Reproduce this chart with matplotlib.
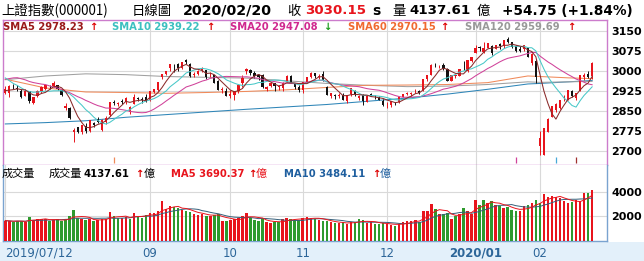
import numpy as np
import pandas as pd
import matplotlib
matplotlib.use("Agg")
import matplotlib.pyplot as plt
from matplotlib.patches import Rectangle

plt.rcParams['font.family'] = ['DejaVu Sans', 'Noto Sans CJK TC']

# ========== DATA ==========
# trading days per month (2019/07/12 .. 2020/02/20)
month_days = [
    ("2019-07", [12, 15, 16, 17, 18, 19, 22, 23, 24, 25, 26, 29, 30, 31]),
    ("2019-08", [1, 2, 5, 6, 7, 8, 9, 12, 13, 14, 15, 16, 19, 20, 21, 22, 23, 26, 27, 28, 29, 30]),
    ("2019-09", [2, 3, 4, 5, 6, 9, 10, 11, 12, 16, 17, 18, 19, 20, 23, 24, 25, 26, 27, 30]),
    ("2019-10", [8, 9, 10, 11, 14, 15, 16, 17, 18, 21, 22, 23, 24, 25, 28, 29, 30, 31]),
    ("2019-11", [1, 4, 5, 6, 7, 8, 11, 12, 13, 14, 15, 18, 19, 20, 21, 22, 25, 26, 27, 28, 29]),
    ("2019-12", [2, 3, 4, 5, 6, 9, 10, 11, 12, 13, 16, 17, 18, 19, 20, 23, 24, 25, 26, 27, 30, 31]),
    ("2020-01", [2, 3, 6, 7, 8, 9, 10, 13, 14, 15, 16, 17, 20, 21, 22, 23]),
    ("2020-02", [3, 4, 5, 6, 7, 10, 11, 12, 13, 14, 17, 18, 19, 20]),
]
tick_labels = ["2019/07/12", "09", "10", "11", "12", "2020/01", "02"]
bold_ticks = ["2020/01"]

# closes before the window (for the short moving averages)
prior_closes = [2887.62, 2890.16, 2917.80, 2987.12, 3001.98, 3008.15, 2982.07, 2976.28,
                2996.79, 2978.88, 3044.90, 3043.94, 3005.25, 2996.79, 3011.06, 2933.36,
                2928.23, 2915.30, 2917.76]

opens = [
    2917, 2916, 2940, 2935, 2925, 2905, 2922, 2880, 2905, 2922, 2932, 2942, 2941, 2946,
    2927, 2860, 2860, 2770, 2787, 2770, 2794, 2773, 2802, 2818, 2778, 2808, 2833, 2884, 2873, 2887, 2883, 2846, 2876, 2898, 2894, 2902,
    2890, 2920, 2926, 2977, 2988, 3010, 3022, 3024, 3010, 3040, 3026, 2984, 2988, 3001, 3002, 2982, 2982, 2960, 2929, 2923,
    2905, 2908, 2924, 2952, 2998, 3003, 2991, 2982, 2982, 2932, 2941, 2952, 2940, 2935, 2958, 2980, 2950, 2939,
    2927, 2958, 2976, 2990, 2978, 2989, 2940, 2906, 2907, 2904, 2910, 2887, 2912, 2925, 2899, 2908, 2883, 2911, 2905, 2899, 2886,
    2875, 2871, 2880, 2883, 2902, 2913, 2911, 2922, 2924, 2928, 2968, 2985, 3019, 3017, 3022, 3005, 2963, 2979, 2981, 3007, 3000, 3037,
    3066, 3089, 3070, 3085, 3094, 3083, 3100, 3093, 3117, 3106, 3094, 3080, 3081, 3084, 3029, 3037,
    2716, 2685, 2771, 2826, 2854, 2860, 2900, 2891, 2924, 2897, 2924, 2975, 2986, 2981,
]
highs = [
    2942, 2945, 2950, 2945, 2932, 2932, 2923, 2900, 2926, 2941, 2946, 2945, 2963, 2948,
    2931, 2877, 2864, 2783, 2790, 2796, 2805, 2815, 2807, 2826, 2818, 2828, 2884, 2891, 2882, 2892, 2901, 2866, 2912, 2901, 2900, 2911,
    2925, 2932, 2958, 2988, 3000, 3026, 3025, 3028, 3033, 3042, 3027, 2995, 3002, 3012, 3004, 2995, 2983, 2966, 2940, 2935,
    2926, 2925, 2950, 2982, 3010, 3007, 2999, 2986, 2987, 2944, 2955, 2953, 2946, 2957, 2983, 2982, 2955, 2946,
    2959, 2976, 2996, 2992, 2987, 2998, 2943, 2917, 2912, 2917, 2915, 2910, 2935, 2928, 2907, 2912, 2908, 2917, 2908, 2903, 2894,
    2881, 2885, 2882, 2900, 2913, 2920, 2921, 2932, 2926, 2969, 2985, 3025, 3027, 3023, 3028, 3009, 2983, 2985, 3008, 3036, 3041, 3051,
    3098, 3093, 3107, 3105, 3095, 3096, 3105, 3116, 3127, 3108, 3095, 3092, 3096, 3085, 3068, 3045,
    2772, 2786, 2823, 2869, 2877, 2891, 2907, 2927, 2928, 2918, 2984, 2990, 2998, 3031,
]
lows = [
    2912, 2900, 2931, 2925, 2896, 2904, 2878, 2874, 2902, 2918, 2928, 2930, 2939, 2929,
    2903, 2851, 2818, 2733, 2766, 2761, 2766, 2770, 2789, 2803, 2772, 2801, 2831, 2872, 2866, 2873, 2876, 2838, 2875, 2887, 2879, 2883,
    2885, 2917, 2925, 2968, 2985, 2999, 2996, 2999, 3006, 3026, 2976, 2975, 2983, 2996, 2968, 2975, 2953, 2927, 2917, 2905,
    2896, 2891, 2915, 2938, 2986, 2985, 2973, 2966, 2936, 2924, 2937, 2924, 2926, 2925, 2956, 2953, 2931, 2920,
    2915, 2954, 2973, 2972, 2970, 2960, 2907, 2897, 2895, 2899, 2889, 2880, 2905, 2906, 2890, 2872, 2881, 2903, 2894, 2888, 2869,
    2860, 2862, 2870, 2878, 2900, 2907, 2906, 2916, 2912, 2925, 2963, 2985, 3012, 3009, 3002, 2961, 2961, 2972, 2980, 3003, 2996, 3031,
    3066, 3074, 3065, 3084, 3060, 3083, 3081, 3086, 3105, 3084, 3071, 3071, 3074, 3051, 3023, 2955,
    2685, 2685, 2768, 2825, 2846, 2856, 2887, 2889, 2901, 2891, 2924, 2966, 2971, 2967,
]
closes = [
    2930.55, 2942.19, 2937.62, 2931.69, 2901.95, 2924.20, 2886.97, 2899.94, 2923.28, 2937.36, 2944.54, 2941.01, 2952.34, 2932.51,
    2908.77, 2867.84, 2821.50, 2777.56, 2768.68, 2794.55, 2774.75, 2814.99, 2797.26, 2808.91, 2815.80, 2823.82, 2883.10, 2880.33,
    2880.00, 2883.44, 2897.43, 2863.57, 2902.19, 2893.76, 2890.92, 2886.24,
    2924.11, 2930.15, 2957.41, 2985.86, 2999.60, 3024.74, 3021.20, 3008.81, 3031.24, 3030.75, 2978.12, 2985.66, 2999.28, 3006.45,
    2977.08, 2985.34, 2955.43, 2929.09, 2932.17, 2905.19,
    2913.57, 2924.86, 2947.71, 2973.66, 3007.88, 2991.05, 2978.71, 2977.33, 2938.14, 2939.62, 2954.38, 2940.92, 2940.46, 2954.93,
    2980.05, 2954.18, 2939.32, 2929.06,
    2958.20, 2975.49, 2991.56, 2978.60, 2978.71, 2964.18, 2909.97, 2914.82, 2905.24, 2909.87, 2891.34, 2909.20, 2933.99, 2911.05,
    2903.64, 2885.29, 2906.17, 2907.06, 2903.19, 2889.69, 2871.98,
    2875.81, 2884.70, 2878.12, 2899.47, 2912.01, 2914.48, 2917.32, 2924.42, 2915.70, 2967.68, 2984.39, 3022.42, 3017.04, 3017.07,
    3004.94, 2962.75, 2982.68, 2981.88, 3007.35, 3005.04, 3040.02, 3050.12,
    3085.20, 3083.79, 3083.41, 3104.80, 3066.89, 3094.88, 3092.29, 3115.57, 3106.82, 3090.04, 3074.08, 3075.50, 3095.79, 3052.14,
    3060.75, 2976.53,
    2746.61, 2783.29, 2818.09, 2866.51, 2875.96, 2890.49, 2901.67, 2926.90, 2906.07, 2917.01, 2983.62, 2984.97, 2975.40, 3030.15,
]
# turnover, 億
volumes = [
    1650, 1600, 1550, 1650, 1600, 1550, 1950, 1700, 1750, 1800, 1750, 1650, 1700, 1750,
    1650, 1800, 2000, 2500, 1850, 1750, 1700, 1750, 1650, 1700, 1750, 1800, 2350, 2000, 1900, 1850, 1950, 1800, 2300, 2000, 1900, 2100,
    2250, 2300, 2450, 3200, 2600, 2800, 2750, 2650, 2500, 2450, 2350, 2150, 2100, 2200, 2050, 2000, 2100, 2150, 1650, 1600,
    1700, 1750, 1900, 2000, 2300, 1850, 1700, 1650, 1800, 1500, 1450, 1500, 1550, 1750, 1900, 1800, 1700, 1700,
    1850, 1950, 1900, 1800, 1700, 1650, 1600, 1500, 1450, 1450, 1500, 1400, 1550, 1500, 1750, 1700, 1450, 1500, 1400, 1400, 1450,
    1350, 1300, 1250, 1400, 1550, 1600, 1650, 1700, 1550, 2400, 2450, 3030, 2600, 2200, 2150, 2250, 1750, 2050, 2150, 2650, 2450, 2200,
    3300, 2950, 3300, 3050, 3200, 2950, 2800, 2700, 2750, 2500, 2400, 2450, 2800, 2950, 3050, 3300,
    3050, 3800, 3600, 3650, 3550, 3450, 3200, 3050, 3139.25, 3300, 3250, 3850, 3914.24, 4137.61,
]

# longer averages at sample days
ma_days = [0, 10, 20, 30, 40, 50, 60, 70, 80, 90, 100, 110, 120, 130, 133, 140, 146]
sma60 = [2968, 2935, 2920, 2918, 2915, 2918, 2922, 2928, 2937, 2945, 2946, 2948, 2955, 2980, 2978, 2973, 2970.15]
sma120 = [2966, 2980, 2988, 2985, 2978, 2975, 2972, 2962, 2952, 2945, 2940, 2942, 2948, 2958, 2956, 2958, 2959.69]
sma240 = [2800, 2805, 2812, 2825, 2835, 2845, 2855, 2864, 2873, 2885, 2897, 2912, 2930, 2950, 2952, 2958, 2963]

# event markers under the price chart
event_days = [27, 127, 137, 142]

# ========== DERIVED ==========
dates = [f"{m}-{d:02d}" for m, days in month_days for d in days]
n = len(dates)
idx = np.arange(n)
o, h, l, c = map(np.array, (opens, highs, lows, closes))
vol = np.array(volumes)

allc = pd.Series(prior_closes + closes)
ma5 = allc.rolling(5).mean().values[-n:]
ma10 = allc.rolling(10).mean().values[-n:]
ma20 = allc.rolling(20).mean().values[-n:]
vs = pd.Series(vol)
vma5 = vs.rolling(5, min_periods=1).mean().values
vma10 = vs.rolling(10, min_periods=1).mean().values

month_starts = [0] + [dates.index(f"{m}-{days[0]:02d}") for m, days in month_days[2:]]

# ========== LAYOUT ==========
W, H = 644, 261
def fx(x): return x / W
def fy(y): return 1 - y / H

fig = plt.figure(figsize=(W / 100, H / 100), dpi=100)
fig.patch.set_facecolor("white")
fig.add_artist(Rectangle((0, 0), 1, fy(242), transform=fig.transFigure,
                         facecolor="#e3f0fa", edgecolor="none", zorder=0))

XL = (-0.57, 149.7)
ax = fig.add_axes([fx(3), fy(165), (607 - 3) / W, (165 - 20) / H])
axv = fig.add_axes([fx(3), fy(241), (607 - 3) / W, (241 - 165) / H])

UP, DN, VDN = "#e8141c", "#111111", "#2e9a2e"
GRID = "#d9d9d9"
LW = 0.75

# --- price panel ---
up = c >= o
col = np.where(up, UP, DN)
ax.vlines(idx, l, h, colors=col, linewidth=0.7, zorder=3)
body = np.maximum(np.abs(c - o), 1.2)
ax.bar(idx, body, bottom=np.minimum(o, c), width=0.55, color=col, linewidth=0, zorder=4)

ax.plot(ma_days, sma240, color="#2f86b8", lw=LW, zorder=2)
ax.plot(ma_days, sma120, color="#a0a0a0", lw=LW, zorder=2)
ax.plot(ma_days, sma60, color="#f08a5a", lw=LW, zorder=2)
ax.plot(idx, ma20, color="#d0429a", lw=LW, zorder=5)
ax.plot(idx, ma10, color="#48c8c8", lw=LW, zorder=5)
ax.plot(idx, ma5, color="#8a2a2a", lw=LW, zorder=5)

ev_cols = ["#f08a5a", "#d0429a", "#48a8d8", "#a03030"]
for d, ec in zip(event_days, ev_cols):
    ax.vlines(d, 2655, 2675, colors=ec, linewidth=0.9, zorder=3)

ax.set_xlim(*XL)
ax.set_ylim(2646, 3190)
yt = [2700, 2775, 2850, 2925, 3000, 3075, 3150]
ax.set_yticks(yt)
ax.yaxis.tick_right()
ax.tick_params(axis="y", length=0, pad=3, labelsize=8)
for t in ax.get_yticklabels():
    t.set_fontweight("bold")
ax.set_xticks(month_starts[1:])
ax.tick_params(axis="x", length=0, labelbottom=False)
ax.grid(True, color=GRID, linewidth=0.8, zorder=0)
for s in ax.spines.values():
    s.set_color("#cc7ccc")
    s.set_linewidth(1.0)

# --- volume panel ---
vup = np.diff(np.r_[prior_closes[-1], c]) >= 0
axv.bar(idx, vol, width=0.62, color=np.where(vup, UP, VDN), linewidth=0, zorder=3)
axv.plot(idx, vma10, color="#355f7a", lw=0.7, zorder=4)
axv.plot(idx, vma5, color="#e8141c", lw=0.7, zorder=4)
axv.set_xlim(*XL)
axv.set_ylim(0, 6150)
axv.set_yticks([2000, 4000])
axv.yaxis.tick_right()
axv.tick_params(axis="y", length=0, pad=3, labelsize=8)
for t in axv.get_yticklabels():
    t.set_fontweight("bold")
axv.set_xticks(month_starts)
axv.set_xticklabels(tick_labels)
axv.tick_params(axis="x", length=0, pad=4, labelsize=8.5, labelcolor="#2d6699")
for t in axv.get_xticklabels():
    if t.get_text() == tick_labels[0]:
        t.set_ha("left")
    if t.get_text() in bold_ticks:
        t.set_fontweight("bold")
axv.grid(True, color=GRID, linewidth=0.8, zorder=0)
for s in axv.spines.values():
    s.set_color("#7aa3d0")
    s.set_linewidth(1.0)
axv.spines["top"].set_visible(False)

# ========== TEXT ==========
def put(x, y, s, **kw):
    fig.text(fx(x), fy(y), s, va="center", ha="left", **kw)

CJK = ["Noto Sans CJK TC", "DejaVu Sans"]

# title row
TY = 11
put(1, TY, "上證指數(000001)", fontsize=9.6, family=CJK)
put(132, TY, "日線圖", fontsize=9.6, family=CJK)
put(183, TY, "2020/02/20", fontsize=10.3, fontweight="bold")
put(287, TY, "收", fontsize=9.6, family=CJK)
put(305, TY, f"{closes[-1]:.2f}", fontsize=9.6, fontweight="bold", color="#e8141c")
put(372, TY, "s", fontsize=10, fontweight="bold")
put(392, TY, "量", fontsize=9.6, family=CJK)
put(409, TY, f"{volumes[-1]:.2f}", fontsize=9.6, fontweight="bold")
put(477, TY, "億", fontsize=9.6, family=CJK)
chg = closes[-1] - closes[-2]
put(502, TY, f"+{chg:.2f} (+{chg / closes[-2] * 100:.2f}%)", fontsize=9.8, fontweight="bold")

# moving average legend
def arrow(series):
    return ("↑", "#dd0000") if series[-1] >= series[-2] else ("↓", "#1a9a1a")

LY = 27
legend = [
    (3, 89, "SMA5", ma5[-1], "#9a1a1a", arrow(ma5)),
    (112, 206, "SMA10", ma10[-1], "#3cc0c0", arrow(ma10)),
    (230, 323, "SMA20", ma20[-1], "#d0288f", arrow(ma20)),
    (348, 440, "SMA60", sma60[-1], "#f06a30", ("↑", "#dd0000")),
    (465, 567, "SMA120", sma120[-1], "#999999", ("↑", "#dd0000")),
]
for x0, xa, name, val, lc, (ar, ac) in legend:
    put(x0, LY, f"{name} {val:.2f}", fontsize=7.2, fontweight="bold", color=lc)
    put(xa, LY, ar, fontsize=7.2, fontweight="bold", color=ac)

# volume legend
VY = 174
put(2, VY, "成交量", fontsize=8, family=CJK)
put(49, VY, "成交量", fontsize=8, family=CJK)
put(84, VY, f"{volumes[-1]:.2f}", fontsize=7.2, fontweight="bold")
put(135, VY, "↑", fontsize=7.2, fontweight="bold", color="#dd0000")
put(144, VY, "億", fontsize=8, family=CJK)
put(171, VY, f"MA5 {vma5[-1]:.2f}", fontsize=7.2, fontweight="bold", color="#e8141c")
put(248, VY, "↑", fontsize=7.2, fontweight="bold", color="#dd0000")
put(256, VY, "億", fontsize=8, color="#e8141c", family=CJK)
put(284, VY, f"MA10 {vma10[-1]:.2f}", fontsize=7.2, fontweight="bold", color="#1f5f9f")
put(372, VY, "↑", fontsize=7.2, fontweight="bold", color="#dd0000")
put(380, VY, "億", fontsize=8, color="#1f5f9f", family=CJK)

fig.savefig("out.png", dpi=100)
